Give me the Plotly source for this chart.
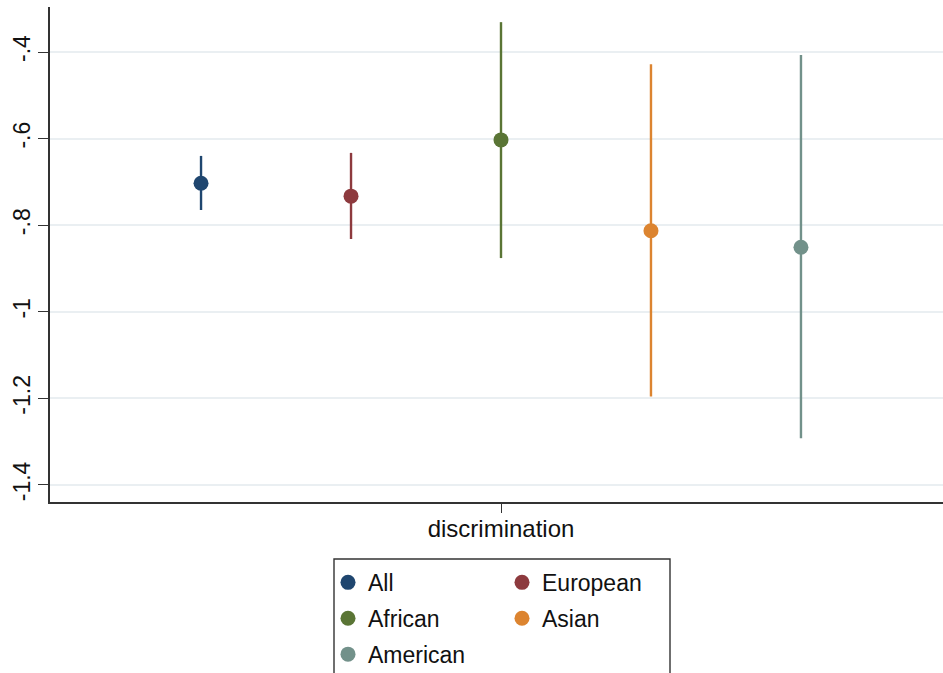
import plotly.graph_objects as go

# Coefficient estimates with 95% confidence intervals for "discrimination"
groups = ["All", "European", "African", "Asian", "American"]
estimates = [-0.703, -0.733, -0.603, -0.813, -0.851]
ci_low = [-0.765, -0.832, -0.876, -1.196, -1.292]
ci_high = [-0.640, -0.633, -0.331, -0.428, -0.407]
offsets = [-2, -1, 0, 1, 2]
colors = ["#1f466f", "#8d3a3e", "#5a7535", "#dc8430", "#72918a"]
legend_ids = ["legend", "legend2", "legend", "legend2", "legend"]

y_tickvals = [-0.4, -0.6, -0.8, -1.0, -1.2, -1.4]
y_ticktext = ["-.4", "-.6", "-.8", "-1", "-1.2", "-1.4"]

FONT = "Liberation Sans, Arial, Helvetica, sans-serif"
FS = 24

fig = go.Figure()
for g, est, lo, hi, x, c, lg in zip(groups, estimates, ci_low, ci_high,
                                    offsets, colors, legend_ids):
    fig.add_trace(go.Scatter(
        x=[x], y=[est], name=g, mode="markers",
        marker=dict(size=15, color=c),
        error_y=dict(type="data", symmetric=False,
                     array=[hi - est], arrayminus=[est - lo],
                     color=c, thickness=2.4, width=0),
        legend=lg, legendgroup=g,
    ))

legend_style = dict(xanchor="left", yanchor="top", orientation="v",
                    bgcolor="rgba(0,0,0,0)", borderwidth=0,
                    tracegroupgap=3, itemwidth=30,
                    font=dict(family=FONT, size=FS - 1, color="#111"))

fig.update_layout(
    width=943, height=673,
    margin=dict(l=50, r=0, t=7, b=171, autoexpand=False),
    paper_bgcolor="white", plot_bgcolor="white",
    font=dict(family=FONT, size=FS, color="#111"),
    showlegend=True,
    legend=dict(x=(328 - 50) / 893, y=-0.119, **legend_style),
    legend2=dict(x=(502 - 50) / 893, y=-0.119, **legend_style),
    xaxis=dict(range=[-3.007, 2.947], tickvals=[0], ticktext=["discrimination"],
               showgrid=False, zeroline=False, showline=True,
               linecolor="#333", linewidth=1.6, ticks="outside",
               ticklen=9, tickwidth=1.4, tickcolor="#333",
               ticklabelstandoff=-5,
               tickfont=dict(size=FS, color="#111")),
    yaxis=dict(range=[-1.4395, -0.296], tickvals=y_tickvals, ticktext=y_ticktext,
               tickangle=-90, showgrid=True, gridcolor="#eaeff2", gridwidth=1.6,
               zeroline=False, showline=True, linecolor="#333", linewidth=1.6,
               ticks="outside", ticklen=10, tickwidth=1.4, tickcolor="#333",
               ticklabelstandoff=-1,
               tickfont=dict(size=FS - 1, color="#111")),
)

# Frame around the two legend columns
fig.add_shape(type="rect", xref="paper", yref="paper",
              x0=(334 - 50) / 893, x1=(670 - 50) / 893,
              y0=-(559 - 502) / 495, y1=-(690 - 502) / 495,
              line=dict(color="#333", width=1.4), fillcolor="rgba(0,0,0,0)",
              layer="above")

fig.write_html("out.html")
